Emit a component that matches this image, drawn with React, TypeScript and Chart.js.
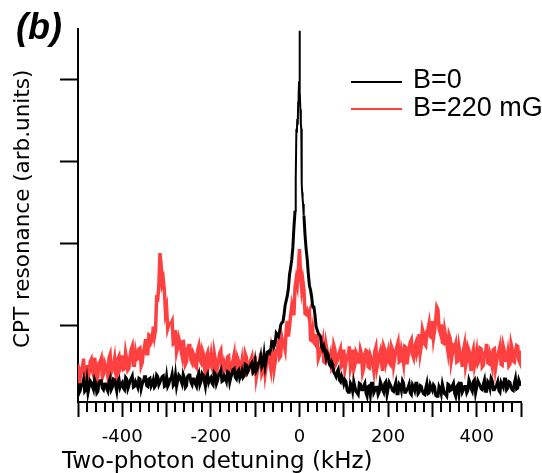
import React, { useEffect, useRef } from "react";
import { Chart, registerables } from "chart.js";

Chart.register(...registerables);

// Two-photon detuning sampling grid (kHz); intermediate samples sit half-way between grid points
const detuningKHz = [
  -500, -495, -490, -485, -480, -475, -470, -465, -460, -455,
  -450, -445, -440, -435, -430, -425, -420, -415, -410, -405,
  -400, -395, -390, -385, -380, -375, -370, -365, -360, -355,
  -350, -345, -340, -335, -330, -325, -320, -315, -310, -305,
  -300, -295, -290, -285, -280, -275, -270, -265, -260, -255,
  -250, -245, -240, -235, -230, -225, -220, -215, -210, -205,
  -200, -195, -190, -185, -180, -175, -170, -165, -160, -155,
  -150, -145, -140, -135, -130, -125, -120, -115, -110, -105,
  -100, -95, -90, -85, -80, -75, -70, -65, -60, -55,
  -50, -45, -40, -35, -30, -25, -20, -15, -10, -5,
  0, 5, 10, 15, 20, 25, 30, 35, 40, 45,
  50, 55, 60, 65, 70, 75, 80, 85, 90, 95,
  100, 105, 110, 115, 120, 125, 130, 135, 140, 145,
  150, 155, 160, 165, 170, 175, 180, 185, 190, 195,
  200, 205, 210, 215, 220, 225, 230, 235, 240, 245,
  250, 255, 260, 265, 270, 275, 280, 285, 290, 295,
  300, 305, 310, 315, 320, 325, 330, 335, 340, 345,
  350, 355, 360, 365, 370, 375, 380, 385, 390, 395,
  400, 405, 410, 415, 420, 425, 430, 435, 440, 445,
  450, 455, 460, 465, 470, 475, 480, 485, 490, 495,
  500,
];

// B = 220 mG (red): values on the grid points
const red220mG = [
  0.52, 0.35, 0.48, 0.33, 0.51, 0.42, 0.58, 0.39, 0.49, 0.38,
  0.55, 0.36, 0.54, 0.45, 0.60, 0.42, 0.51, 0.41, 0.59, 0.47,
  0.63, 0.47, 0.58, 0.47, 0.70, 0.51, 0.66, 0.59, 0.72, 0.54,
  0.72, 0.65, 0.88, 0.79, 0.98, 0.94, 1.32, 1.88, 1.51, 1.42,
  1.21, 1.01, 1.02, 0.77, 0.94, 0.73, 0.79, 0.62, 0.71, 0.55,
  0.75, 0.57, 0.66, 0.50, 0.69, 0.58, 0.70, 0.49, 0.62, 0.50,
  0.63, 0.44, 0.58, 0.48, 0.66, 0.44, 0.54, 0.45, 0.62, 0.47,
  0.57, 0.41, 0.60, 0.47, 0.55, 0.38, 0.61, 0.45, 0.57, 0.42,
  0.62, 0.44, 0.55, 0.41, 0.60, 0.51, 0.65, 0.47, 0.66, 0.55,
  0.70, 0.60, 0.85, 0.76, 0.94, 0.86, 1.12, 1.14, 1.46, 1.49,
  1.93, 1.44, 1.43, 1.13, 1.12, 0.82, 0.93, 0.77, 0.87, 0.63,
  0.71, 0.55, 0.76, 0.56, 0.63, 0.51, 0.70, 0.56, 0.67, 0.50,
  0.70, 0.55, 0.63, 0.47, 0.70, 0.51, 0.64, 0.55, 0.65, 0.47,
  0.69, 0.49, 0.63, 0.54, 0.68, 0.48, 0.63, 0.54, 0.74, 0.54,
  0.67, 0.52, 0.70, 0.60, 0.74, 0.55, 0.69, 0.53, 0.73, 0.62,
  0.79, 0.64, 0.74, 0.65, 0.89, 0.75, 0.90, 0.75, 0.95, 0.86,
  1.05, 0.93, 1.22, 0.96, 1.01, 0.78, 0.86, 0.68, 0.84, 0.64,
  0.72, 0.55, 0.73, 0.60, 0.69, 0.50, 0.73, 0.55, 0.64, 0.51,
  0.68, 0.56, 0.71, 0.51, 0.67, 0.54, 0.64, 0.50, 0.71, 0.56,
  0.68, 0.52, 0.74, 0.57, 0.66, 0.52, 0.71, 0.55, 0.75, 0.57,
  0.69,
];
// B = 220 mG (red): values half-way between grid points (-497.5 ... 497.5)
const red220mGMid = [
  0.29, 0.47, 0.59, 0.39, 0.33, 0.55, 0.44, 0.60, 0.32, 0.54,
  0.59, 0.40, 0.50, 0.37, 0.64, 0.46, 0.59, 0.35, 0.62, 0.51,
  0.46, 0.66, 0.45, 0.62, 0.74, 0.51, 0.58, 0.71, 0.50, 0.68,
  0.83, 0.65, 0.87, 0.82, 0.86, 1.33, 1.48, 1.74, 1.56, 1.15,
  0.96, 1.02, 1.05, 0.78, 0.67, 0.84, 0.69, 0.82, 0.52, 0.71,
  0.75, 0.54, 0.63, 0.48, 0.74, 0.55, 0.66, 0.41, 0.66, 0.54,
  0.48, 0.66, 0.43, 0.58, 0.69, 0.44, 0.49, 0.61, 0.37, 0.53,
  0.64, 0.41, 0.56, 0.45, 0.38, 0.65, 0.43, 0.54, 0.61, 0.41,
  0.36, 0.53, 0.66, 0.45, 0.41, 0.64, 0.55, 0.72, 0.46, 0.69,
  0.78, 0.62, 0.78, 0.70, 1.05, 0.98, 1.23, 1.14, 1.56, 1.69,
  1.61, 1.54, 1.14, 1.17, 1.16, 0.81, 0.79, 0.87, 0.59, 0.71,
  0.79, 0.54, 0.68, 0.56, 0.48, 0.75, 0.53, 0.64, 0.71, 0.52,
  0.46, 0.63, 0.74, 0.53, 0.46, 0.67, 0.55, 0.70, 0.42, 0.63,
  0.68, 0.48, 0.59, 0.45, 0.73, 0.55, 0.68, 0.44, 0.70, 0.60,
  0.54, 0.74, 0.51, 0.68, 0.79, 0.56, 0.62, 0.74, 0.52, 0.70,
  0.82, 0.60, 0.78, 0.70, 0.66, 0.95, 0.77, 0.92, 1.02, 0.85,
  0.84, 1.07, 1.19, 0.91, 0.79, 0.94, 0.77, 0.88, 0.56, 0.74,
  0.77, 0.56, 0.64, 0.49, 0.76, 0.57, 0.69, 0.44, 0.70, 0.59,
  0.53, 0.72, 0.49, 0.66, 0.77, 0.53, 0.58, 0.70, 0.47, 0.63,
  0.74, 0.51, 0.68, 0.57, 0.50, 0.77, 0.56, 0.67, 0.74, 0.54,
];

// B = 0 (black): wings on the grid (|detuning| >= 10 kHz), their half-way samples, and a finely sampled centre
const blackLeftWing = [
  0.29, 0.20, 0.27, 0.19, 0.32, 0.24, 0.30, 0.21, 0.29, 0.19,
  0.32, 0.23, 0.28, 0.22, 0.31, 0.21, 0.34, 0.26, 0.31, 0.24,
  0.30, 0.21, 0.34, 0.26, 0.35, 0.24, 0.31, 0.24, 0.34, 0.28,
  0.37, 0.26, 0.34, 0.25, 0.33, 0.26, 0.37, 0.30, 0.37, 0.25,
  0.37, 0.28, 0.34, 0.26, 0.39, 0.32, 0.37, 0.28, 0.36, 0.26,
  0.39, 0.30, 0.34, 0.28, 0.37, 0.27, 0.41, 0.32, 0.37, 0.30,
  0.36, 0.27, 0.40, 0.32, 0.42, 0.31, 0.38, 0.31, 0.42, 0.36,
  0.46, 0.36, 0.43, 0.35, 0.44, 0.38, 0.51, 0.45, 0.52, 0.42,
  0.55, 0.47, 0.55, 0.49, 0.64, 0.58, 0.68, 0.70, 0.80, 0.78,
  0.88, 0.92, 1.03, 1.12, 1.30, 1.45, 1.70, 1.95, 2.40,
];
const blackLeftWingMid = [
  0.17, 0.27, 0.33, 0.21, 0.17, 0.32, 0.25, 0.33, 0.17, 0.30,
  0.32, 0.21, 0.28, 0.19, 0.35, 0.24, 0.33, 0.19, 0.34, 0.28,
  0.23, 0.36, 0.22, 0.32, 0.38, 0.25, 0.28, 0.35, 0.22, 0.31,
  0.37, 0.25, 0.35, 0.28, 0.24, 0.39, 0.27, 0.34, 0.38, 0.26,
  0.25, 0.34, 0.40, 0.28, 0.25, 0.39, 0.32, 0.40, 0.24, 0.37,
  0.39, 0.27, 0.34, 0.25, 0.41, 0.31, 0.39, 0.25, 0.40, 0.34,
  0.29, 0.42, 0.28, 0.39, 0.45, 0.32, 0.35, 0.43, 0.30, 0.40,
  0.47, 0.34, 0.45, 0.39, 0.36, 0.52, 0.42, 0.49, 0.54, 0.44,
  0.44, 0.54, 0.62, 0.52, 0.50, 0.67, 0.66, 0.80, 0.74, 0.90,
  0.86, 1.00, 1.04, 1.24, 1.36, 1.62, 1.80, 2.20,
];
const blackCenterKHz = [-9, -8, -7, -6, -5, -4, -3, -2, -1, 0, 1, 2, 3, 4, 5, 6, 7, 8, 9];
const blackCenter = [
  2.62, 2.79, 3.40, 3.35, 3.52, 3.45, 3.72, 3.80, 3.98, 4.60,
  3.86, 3.64, 3.46, 3.40, 2.73, 2.62, 2.55, 2.48, 2.40,
];
const blackRightWing = [
  2.34, 1.93, 1.62, 1.43, 1.22, 1.12, 0.94, 0.88,
  0.73, 0.74, 0.60, 0.63, 0.50, 0.52, 0.40, 0.43, 0.33, 0.38,
  0.28, 0.31, 0.18, 0.29, 0.19, 0.25, 0.17, 0.29, 0.21, 0.26,
  0.17, 0.25, 0.15, 0.29, 0.20, 0.24, 0.18, 0.27, 0.18, 0.31,
  0.22, 0.27, 0.20, 0.25, 0.16, 0.28, 0.20, 0.29, 0.18, 0.24,
  0.17, 0.27, 0.20, 0.29, 0.18, 0.25, 0.16, 0.23, 0.16, 0.27,
  0.20, 0.25, 0.13, 0.25, 0.16, 0.22, 0.15, 0.28, 0.20, 0.26,
  0.17, 0.25, 0.16, 0.29, 0.21, 0.25, 0.20, 0.29, 0.19, 0.33,
  0.24, 0.29, 0.22, 0.28, 0.19, 0.31, 0.23, 0.32, 0.21, 0.27,
  0.20, 0.30, 0.24, 0.34, 0.23, 0.30, 0.21, 0.29, 0.22, 0.33,
  0.26,
];
const blackRightWingMid = [
  2.10, 1.80, 1.48, 1.34, 1.22, 0.98, 0.90, 0.86,
  0.70, 0.68, 0.66, 0.52, 0.55, 0.42, 0.37, 0.46, 0.31, 0.34,
  0.33, 0.20, 0.18, 0.26, 0.31, 0.19, 0.15, 0.28, 0.21, 0.29,
  0.13, 0.26, 0.29, 0.17, 0.24, 0.15, 0.31, 0.21, 0.29, 0.15,
  0.30, 0.24, 0.19, 0.30, 0.16, 0.26, 0.32, 0.18, 0.21, 0.28,
  0.15, 0.24, 0.29, 0.16, 0.26, 0.19, 0.15, 0.29, 0.17, 0.23,
  0.27, 0.14, 0.13, 0.22, 0.28, 0.16, 0.13, 0.27, 0.21, 0.29,
  0.13, 0.27, 0.29, 0.18, 0.25, 0.17, 0.33, 0.22, 0.31, 0.17,
  0.32, 0.26, 0.21, 0.33, 0.19, 0.29, 0.35, 0.21, 0.24, 0.31,
  0.18, 0.27, 0.34, 0.21, 0.31, 0.24, 0.20, 0.35, 0.23, 0.29,
];

const seriesLabels = ["B=0", "B=220 mG"];
const seriesColors = ["#000000", "rgb(255,64,64)"];
const xTitle = "Two-photon detuning (kHz)";
const yTitle = "CPT resonance (arb.units)";
const panelLabel = "(b)";

const xMajorTicks = [-500, -400, -300, -200, -100, 0, 100, 200, 300, 400, 500];
const xLabeledTicks = [-400, -200, 0, 200, 400];
const yTicks = [1, 2, 3, 4];

const X_MIN = -500;
const X_MAX = 500;
const Y_MIN = 0.06;
const Y_MAX = 4.62;

type Pt = { x: number; y: number };

// grid samples interleaved with the samples half-way to the next grid point
function interleave(xs: number[], ys: number[], mids: number[]): Pt[] {
  const out: Pt[] = [];
  xs.forEach((x, i) => {
    out.push({ x, y: ys[i] });
    if (i < mids.length && i + 1 < xs.length) {
      out.push({ x: (x + xs[i + 1]) / 2, y: mids[i] });
    }
  });
  return out;
}

const minorTickPlugin = {
  id: "minorTicks",
  afterDraw(chart: any) {
    const xs = chart.scales.x;
    const ctx = chart.ctx;
    const y0 = chart.chartArea.bottom;
    ctx.save();
    ctx.strokeStyle = "#000";
    ctx.lineWidth = 2;
    for (let v = X_MIN; v <= X_MAX; v += 20) {
      if (v % 100 === 0) continue;
      const px = Math.round(xs.getPixelForValue(v));
      ctx.beginPath();
      ctx.moveTo(px, y0);
      ctx.lineTo(px, y0 + 10);
      ctx.stroke();
    }
    ctx.restore();
  },
};

export default function App() {
  const canvasRef = useRef<HTMLCanvasElement | null>(null);

  useEffect(() => {
    if (!canvasRef.current) return;

    const leftX = detuningKHz.filter((x) => x <= -10);
    const rightX = detuningKHz.filter((x) => x >= 10);
    const blackPoints: Pt[] = [
      ...interleave(leftX, blackLeftWing, blackLeftWingMid),
      ...blackCenterKHz.map((x, i) => ({ x, y: blackCenter[i] })),
      ...interleave(rightX, blackRightWing, blackRightWingMid),
    ];
    const redPoints = interleave(detuningKHz, red220mG, red220mGMid);

    const chart = new Chart(canvasRef.current, {
      type: "line",
      data: {
        datasets: [
          {
            label: seriesLabels[0],
            data: blackPoints,
            borderColor: seriesColors[0],
            backgroundColor: seriesColors[0],
            borderWidth: 3,
            pointRadius: 0,
            tension: 0,
            fill: false,
            segment: {
              borderWidth: (c: any) => (c.p0.parsed.y > 2.2 && c.p1.parsed.y > 2.2 ? 2 : 3),
            },
          },
          {
            label: seriesLabels[1],
            data: redPoints,
            borderColor: seriesColors[1],
            backgroundColor: seriesColors[1],
            borderWidth: 3.5,
            pointRadius: 0,
            tension: 0,
            fill: false,
          },
        ],
      },
      options: {
        responsive: false,
        animation: false,
        devicePixelRatio: 1,
        layout: { padding: { left: 0, right: 21, top: 29, bottom: 0 } },
        plugins: {
          legend: { display: false },
          tooltip: { enabled: false },
        },
        scales: {
          x: {
            type: "linear",
            min: X_MIN,
            max: X_MAX,
            afterFit: (s: any) => {
              s.height = 71;
            },
            afterBuildTicks: (s: any) => {
              s.ticks = xMajorTicks.map((v) => ({ value: v }));
            },
            border: { display: true, color: "#000", width: 2 },
            grid: {
              drawOnChartArea: false,
              drawTicks: true,
              tickLength: 15,
              tickColor: "#000",
              tickWidth: 2,
            },
            ticks: {
              autoSkip: false,
              maxRotation: 0,
              color: "#000",
              padding: 10,
              font: { family: "DejaVu Sans", size: 18 },
              callback: (v: any) => (xLabeledTicks.includes(Number(v)) ? String(v) : ""),
            },
          },
          y: {
            type: "linear",
            min: Y_MIN,
            max: Y_MAX,
            afterFit: (s: any) => {
              s.width = 78;
            },
            afterBuildTicks: (s: any) => {
              s.ticks = yTicks.map((v) => ({ value: v }));
            },
            border: { display: true, color: "#000", width: 2 },
            grid: {
              drawOnChartArea: false,
              drawTicks: true,
              tickLength: 18,
              tickColor: "#000",
              tickWidth: 2,
            },
            ticks: { display: false },
          },
        },
      },
      plugins: [minorTickPlugin],
    });

    return () => chart.destroy();
  }, []);

  const legendText: React.CSSProperties = {
    position: "absolute",
    left: 413,
    fontFamily: "'Liberation Sans', Arial, sans-serif",
    fontSize: 27,
    lineHeight: "27px",
    color: "#000",
    whiteSpace: "nowrap",
  };

  return (
    <div style={{ position: "fixed", left: 0, top: 0, width: 542, height: 473, background: "#fff", overflow: "hidden" }}>
      <canvas ref={canvasRef} width={542} height={473} style={{ display: "block" }} />
      <div
        style={{
          position: "absolute",
          left: 16,
          top: 9,
          fontFamily: "'Liberation Sans', Arial, sans-serif",
          fontWeight: "bold",
          fontStyle: "italic",
          fontSize: 36,
          lineHeight: "36px",
          color: "#000",
        }}
      >
        {panelLabel}
      </div>
      <div
        style={{
          position: "absolute",
          left: 62,
          top: 449,
          fontFamily: "'DejaVu Sans', sans-serif",
          fontSize: 23,
          lineHeight: "23px",
          color: "#000",
          whiteSpace: "nowrap",
        }}
      >
        {xTitle}
      </div>
      <div
        style={{
          position: "absolute",
          left: 11,
          top: 348,
          transformOrigin: "0 0",
          transform: "rotate(-90deg)",
          fontFamily: "'DejaVu Sans', sans-serif",
          fontSize: 21.5,
          lineHeight: "21.5px",
          color: "#000",
          whiteSpace: "nowrap",
        }}
      >
        {yTitle}
      </div>
      <div style={{ position: "absolute", left: 351, top: 81, width: 51, height: 2, background: seriesColors[0] }} />
      <div style={{ position: "absolute", left: 351, top: 108, width: 51, height: 2, background: seriesColors[1] }} />
      <div style={{ ...legendText, top: 66 }}>{seriesLabels[0]}</div>
      <div style={{ ...legendText, top: 94 }}>{seriesLabels[1]}</div>
    </div>
  );
}
